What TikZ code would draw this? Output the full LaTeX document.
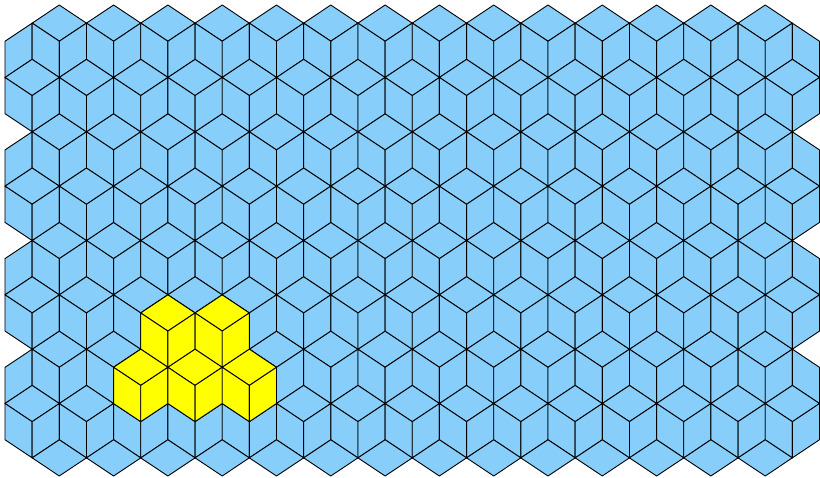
\documentclass[tikz,border=0pt]{standalone}
\usepackage{tikz}
\definecolor{skyface}{HTML}{87CEFA}
\definecolor{cubeyellow}{HTML}{FFFF00}
\tikzset{
  bgface/.style={fill=skyface,draw=black,line width=0.9pt,line join=round},
  hlface/.style={fill=cubeyellow,draw=black,line width=0.9pt,line join=round}
}
\newcommand\ftop[3]{\filldraw[#1] (#2,#3-2) -- (#2+1,#3-1) -- (#2,#3) -- (#2-1,#3-1) -- cycle;}
\newcommand\fleft[3]{\filldraw[#1] (#2-1,#3-1) -- (#2,#3) -- (#2,#3+2) -- (#2-1,#3+1) -- cycle;}
\newcommand\fright[3]{\filldraw[#1] (#2,#3) -- (#2+1,#3-1) -- (#2+1,#3+1) -- (#2,#3+2) -- cycle;}
\newcommand\fcube[3]{\ftop{#1}{#2}{#3}\fleft{#1}{#2}{#3}\fright{#1}{#2}{#3}}
\begin{document}
\begin{tikzpicture}[x=27.15pt,y=-18.115pt]
\useasboundingbox (-5pt,5pt) rectangle (815pt,-472pt);
% background rhombille tiling
\foreach \j in {0,2,4,6}{
  \pgfmathsetmacro\cy{2+3*\j}
  \fright{bgface}{0}{\cy}
  \foreach \cx in {2,4,...,28}{\fcube{bgface}{\cx}{\cy}}
  \fleft{bgface}{30}{\cy}
}
\foreach \j in {1,3,5,7}{
  \pgfmathsetmacro\cy{2+3*\j}
  \foreach \cx in {1,3,...,29}{\fcube{bgface}{\cx}{\cy}}
}
\foreach \cx in {2,4,...,28}{\ftop{bgface}{\cx}{26}}
% yellow cubes
\fcube{hlface}{6}{18}
\fcube{hlface}{8}{18}
\fcube{hlface}{5}{21}
\fcube{hlface}{7}{21}
\fcube{hlface}{9}{21}
\end{tikzpicture}
\end{document}
